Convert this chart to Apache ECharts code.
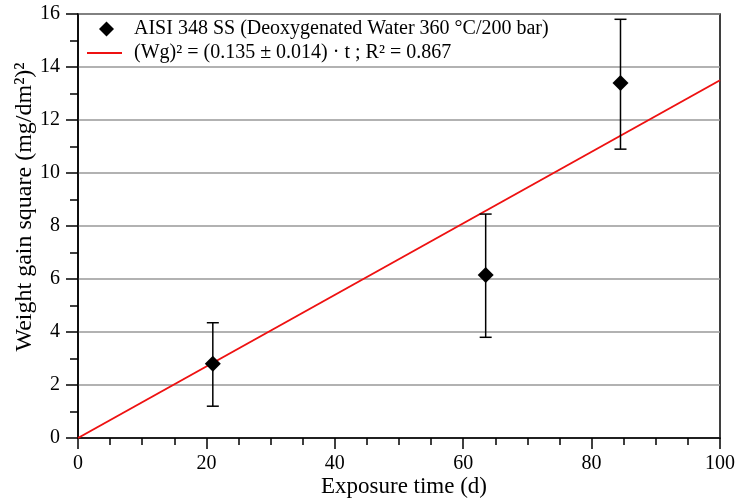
<!DOCTYPE html>
<html><head><meta charset="utf-8">
<script src="https://cdn.jsdelivr.net/npm/echarts@6/dist/echarts.min.js"></script>
<style>html,body{margin:0;padding:0;background:#fff}#c{width:735px;height:502px}</style>
</head><body><div id="c"></div>
<script>
const times = [21, 63.5, 84.5];
const gains = [2.8, 6.15, 13.4];
const errLow = [1.2, 3.8, 10.9];
const errHigh = [4.35, 8.45, 15.8];
const fitX = [0, 100];
const fitY = [0, 13.5];
const seriesNames = ['AISI 348 SS (Deoxygenated Water 360 °C/200 bar)', '(Wg)² = (0.135 ± 0.014) · t ; R² = 0.867'];

const font = 'Liberation Serif, Times New Roman, serif';
const chart = echarts.init(document.getElementById('c'));
chart.setOption({
  animation: false,
  backgroundColor: '#fff',
  grid: {left: 78, right: 15, top: 14, bottom: 64, show: true, borderColor: '#000', borderWidth: 1.5,
         containLabel: false, outerBoundsMode: 'none'},
  legend: [{
    orient: 'vertical', left: 94, top: 14, itemWidth: 15, itemHeight: 15,
    textStyle: {fontFamily: font, fontSize: 20, color: '#000', padding: [0, 0, 0, 15]},
    itemStyle: {color: '#000', opacity: 1},
    data: [{name: seriesNames[0], icon: 'diamond'}]
  }, {
    orient: 'vertical', left: 82, top: 38, itemWidth: 35, itemHeight: 2,
    textStyle: {fontFamily: font, fontSize: 20, color: '#000', padding: [0, 0, 0, 7]},
    data: [{name: seriesNames[1], icon: 'rect'}]
  }],
  xAxis: {
    type: 'value', min: 0, max: 100, interval: 20,
    name: 'Exposure time (d)', nameLocation: 'middle', nameGap: 37, nameMoveOverlap: false,
    nameTextStyle: {fontFamily: font, fontSize: 23, color: '#000', padding: [0, 0, 0, 10]},
    axisLine: {lineStyle: {color: '#000', width: 1.5}},
    axisTick: {length: 11, lineStyle: {color: '#000', width: 1.5}},
    minorTick: {show: true, splitNumber: 4, length: 7, lineStyle: {color: '#000', width: 1.5}},
    axisLabel: {fontFamily: font, fontSize: 20, color: '#000', margin: 16},
    splitLine: {show: false}
  },
  yAxis: {
    type: 'value', min: 0, max: 16, interval: 2,
    name: 'Weight gain square (mg/dm²)²', nameLocation: 'middle', nameGap: 41, nameMoveOverlap: false,
    nameTextStyle: {fontFamily: font, fontSize: 24, color: '#000', padding: [0, 0, 0, 38]},
    axisLine: {lineStyle: {color: '#000', width: 1.5}},
    axisTick: {length: 12, lineStyle: {color: '#000', width: 1.5}},
    minorTick: {show: true, splitNumber: 2, length: 8, lineStyle: {color: '#000', width: 1.5}},
    axisLabel: {fontFamily: font, fontSize: 20, color: '#000', margin: 18},
    splitLine: {show: true, lineStyle: {color: '#999', width: 1.5}}
  },
  series: [
    {
      name: seriesNames[1], type: 'line', symbol: 'none', z: 3,
      lineStyle: {color: '#ee1111', width: 2},
      itemStyle: {color: '#ee1111'},
      data: fitX.map((x, i) => [x, fitY[i]])
    },
    {
      name: 'err', type: 'custom', z: 4,
      data: times.map((t, i) => [t, errLow[i], errHigh[i]]),
      renderItem: function (params, api) {
        const lo = api.coord([api.value(0), api.value(1)]);
        const hi = api.coord([api.value(0), api.value(2)]);
        const w = 6;
        const st = {stroke: '#000', lineWidth: 1.5};
        return {type: 'group', children: [
          {type: 'line', shape: {x1: lo[0], y1: lo[1], x2: hi[0], y2: hi[1]}, style: st},
          {type: 'line', shape: {x1: lo[0] - w, y1: lo[1], x2: lo[0] + w, y2: lo[1]}, style: st},
          {type: 'line', shape: {x1: hi[0] - w, y1: hi[1], x2: hi[0] + w, y2: hi[1]}, style: st}
        ]};
      }
    },
    {
      name: seriesNames[0], type: 'scatter', symbol: 'diamond', symbolSize: 16, z: 5,
      itemStyle: {color: '#000', opacity: 1},
      data: times.map((t, i) => [t, gains[i]])
    }
  ]
});
</script></body></html>
